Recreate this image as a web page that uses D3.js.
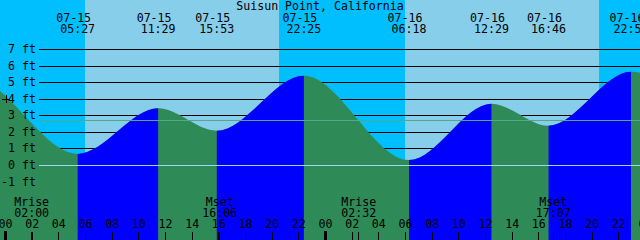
<!DOCTYPE html>
<html><head><meta charset="utf-8">
<script src="https://cdn.jsdelivr.net/npm/d3@7"></script>
<style>
html,body{margin:0;padding:0;background:#00BFFF;}
svg{display:block;}
text{font-family:"DejaVu Sans Mono",monospace;font-size:11.6px;fill:#000;}
</style></head>
<body>
<script>
// ---- data ----
const title = "Suisun Point, California";
const eventDates = ["07-15","07-15","07-15","07-15","07-16","07-16","07-16","07-16"];
const eventTimes = ["05:27","11:29","15:53","22:25","06:18","12:29","16:46","22:57"];
const eventHeights = [0.7, 3.45, 2.1, 5.42, 0.33, 3.73, 2.4, 5.65];
// off-screen neighbours (estimated) so the curve enters/leaves the frame correctly
const beforeDates = ["07-14","07-14"], beforeTimes = ["15:10","21:30"], beforeHeights = [2.2, 5.3];
const afterDates = ["07-17"], afterTimes = ["06:55"], afterHeights = [0.0];
const sunriseDates = ["07-15","07-16"], sunriseTimes = ["06:00","06:00"];
const sunsetDates = ["07-15","07-16"], sunsetTimes = ["20:33","20:33"];
const moonNames = ["Mrise","Mset","Mrise","Mset"];
const moonDates = ["07-15","07-15","07-16","07-16"];
const moonTimes = ["02:00","16:06","02:32","17:07"];
const levelLabels = [7,6,5,4,3,2,1,0,-1];
const mslLevel = 2.73;

// ---- helpers ----
const W = 640, H = 240;
const hrs = (d, t) => (+d.slice(3) - 15) * 24 + (+t.slice(0,2)) + (+t.slice(3)) / 60;
const x = d3.scaleLinear().domain([0, 48]).range([5, 645]);
const y = d3.scaleLinear().domain([0, 7]).range([165.5, 49.5]);
const crisp = v => Math.floor(v) + 0.5;

const svg = d3.select("body").append("svg").attr("width", W).attr("height", H);

// sky: night then day
svg.append("rect").attr("width", W).attr("height", H).attr("fill", "#00BFFF");
sunriseDates.forEach((d, i) => {
  const x0 = x(hrs(d, sunriseTimes[i])), x1 = x(hrs(sunsetDates[i], sunsetTimes[i]));
  svg.append("rect").attr("x", x0).attr("y", 0).attr("width", x1 - x0).attr("height", H)
    .attr("fill", "#87CEEB").attr("shape-rendering", "crispEdges");
});

// grid lines (under water)
svg.append("g").selectAll("line").data(levelLabels.filter(v => v > 0)).join("line")
  .attr("x1", 39).attr("x2", W).attr("y1", d => crisp(y(d))).attr("y2", d => crisp(y(d)))
  .attr("stroke", "#000").attr("stroke-width", 1).attr("shape-rendering", "crispEdges");

// tide points
const pts = [];
beforeDates.forEach((d, i) => pts.push({h: hrs(d, beforeTimes[i]), v: beforeHeights[i]}));
eventDates.forEach((d, i) => pts.push({h: hrs(d, eventTimes[i]), v: eventHeights[i], i}));
afterDates.forEach((d, i) => pts.push({h: hrs(d, afterTimes[i]), v: afterHeights[i]}));

const area = d3.area().x(d => x(d.h)).y0(H).y1(d => y(d.v)).curve(d3.curveMonotoneX);

// rising (flood) segments -> blue clip
const defs = svg.append("defs");
const cp = defs.append("clipPath").attr("id", "flood");
for (let k = 0; k < pts.length - 1; k++) {
  if (pts[k + 1].v > pts[k].v) {
    const a = x(pts[k].h), b = x(pts[k + 1].h);
    cp.append("rect").attr("x", a).attr("y", 0).attr("width", b - a).attr("height", H);
  }
}
svg.append("path").datum(pts).attr("d", area).attr("fill", "#2E8B57");
svg.append("path").datum(pts).attr("d", area).attr("fill", "#0000FF").attr("clip-path", "url(#flood)");

// datum & MSL lines
svg.append("line").attr("x1", 39).attr("x2", W).attr("y1", crisp(y(0))).attr("y2", crisp(y(0)))
  .attr("stroke", "#9fd6ec").attr("shape-rendering", "crispEdges");
svg.append("line").attr("x1", 39).attr("x2", W).attr("y1", crisp(y(mslLevel))).attr("y2", crisp(y(mslLevel)))
  .attr("stroke", "#52a88f").attr("shape-rendering", "crispEdges");

// level labels
svg.append("g").selectAll("text").data(levelLabels).join("text")
  .attr("x", 36).attr("y", d => y(d) + 3.5).attr("text-anchor", "end").text(d => d + " ft");

// marker
const mk = svg.append("g").attr("stroke", "#000").attr("shape-rendering", "crispEdges");
mk.append("line").attr("x1", 2).attr("x2", 10).attr("y1", 99.5).attr("y2", 99.5);
mk.append("line").attr("x1", 6.5).attr("x2", 6.5).attr("y1", 95).attr("y2", 103);

// title
svg.append("text").attr("x", 320).attr("y", 9.5).attr("text-anchor", "middle").text(title);

// event labels
eventDates.forEach((d, i) => {
  const cx = x(hrs(d, eventTimes[i]));
  svg.append("text").attr("x", cx - 4).attr("y", 21.5).attr("text-anchor", "middle").text(d);
  svg.append("text").attr("x", cx).attr("y", 33).attr("text-anchor", "middle").text(eventTimes[i]);
});

// moon labels
moonNames.forEach((m, i) => {
  const cx = x(hrs(moonDates[i], moonTimes[i]));
  svg.append("text").attr("x", cx).attr("y", 206).attr("text-anchor", "middle").text(m);
  svg.append("text").attr("x", cx).attr("y", 217).attr("text-anchor", "middle").text(moonTimes[i]);
});

// hour axis
const ax = d3.axisTop(x).tickValues(d3.range(0, 49, 2)).tickSize(8).tickPadding(4)
  .tickFormat(h => String(h % 24).padStart(2, "0"));
const g = svg.append("g").attr("transform", `translate(0,${H})`).call(ax);
g.select(".domain").remove();
g.selectAll("line").attr("stroke", "#000").attr("shape-rendering", "crispEdges");
g.selectAll("text").attr("font-family", "DejaVu Sans Mono, monospace").attr("font-size", "11.6px").attr("fill", "#000");

// day boundary ticks and moon ticks
svg.append("g").selectAll("line").data([0, 24, 48]).join("line")
  .attr("x1", d => x(d)).attr("x2", d => x(d)).attr("y1", 231).attr("y2", H)
  .attr("stroke", "#000").attr("stroke-width", 3).attr("shape-rendering", "crispEdges");
svg.append("g").selectAll("line").data(moonDates.map((d, i) => hrs(d, moonTimes[i]))).join("line")
  .attr("x1", d => crisp(x(d))).attr("x2", d => crisp(x(d))).attr("y1", 232).attr("y2", H)
  .attr("stroke", "#000").attr("shape-rendering", "crispEdges");
</script>
</body></html>
